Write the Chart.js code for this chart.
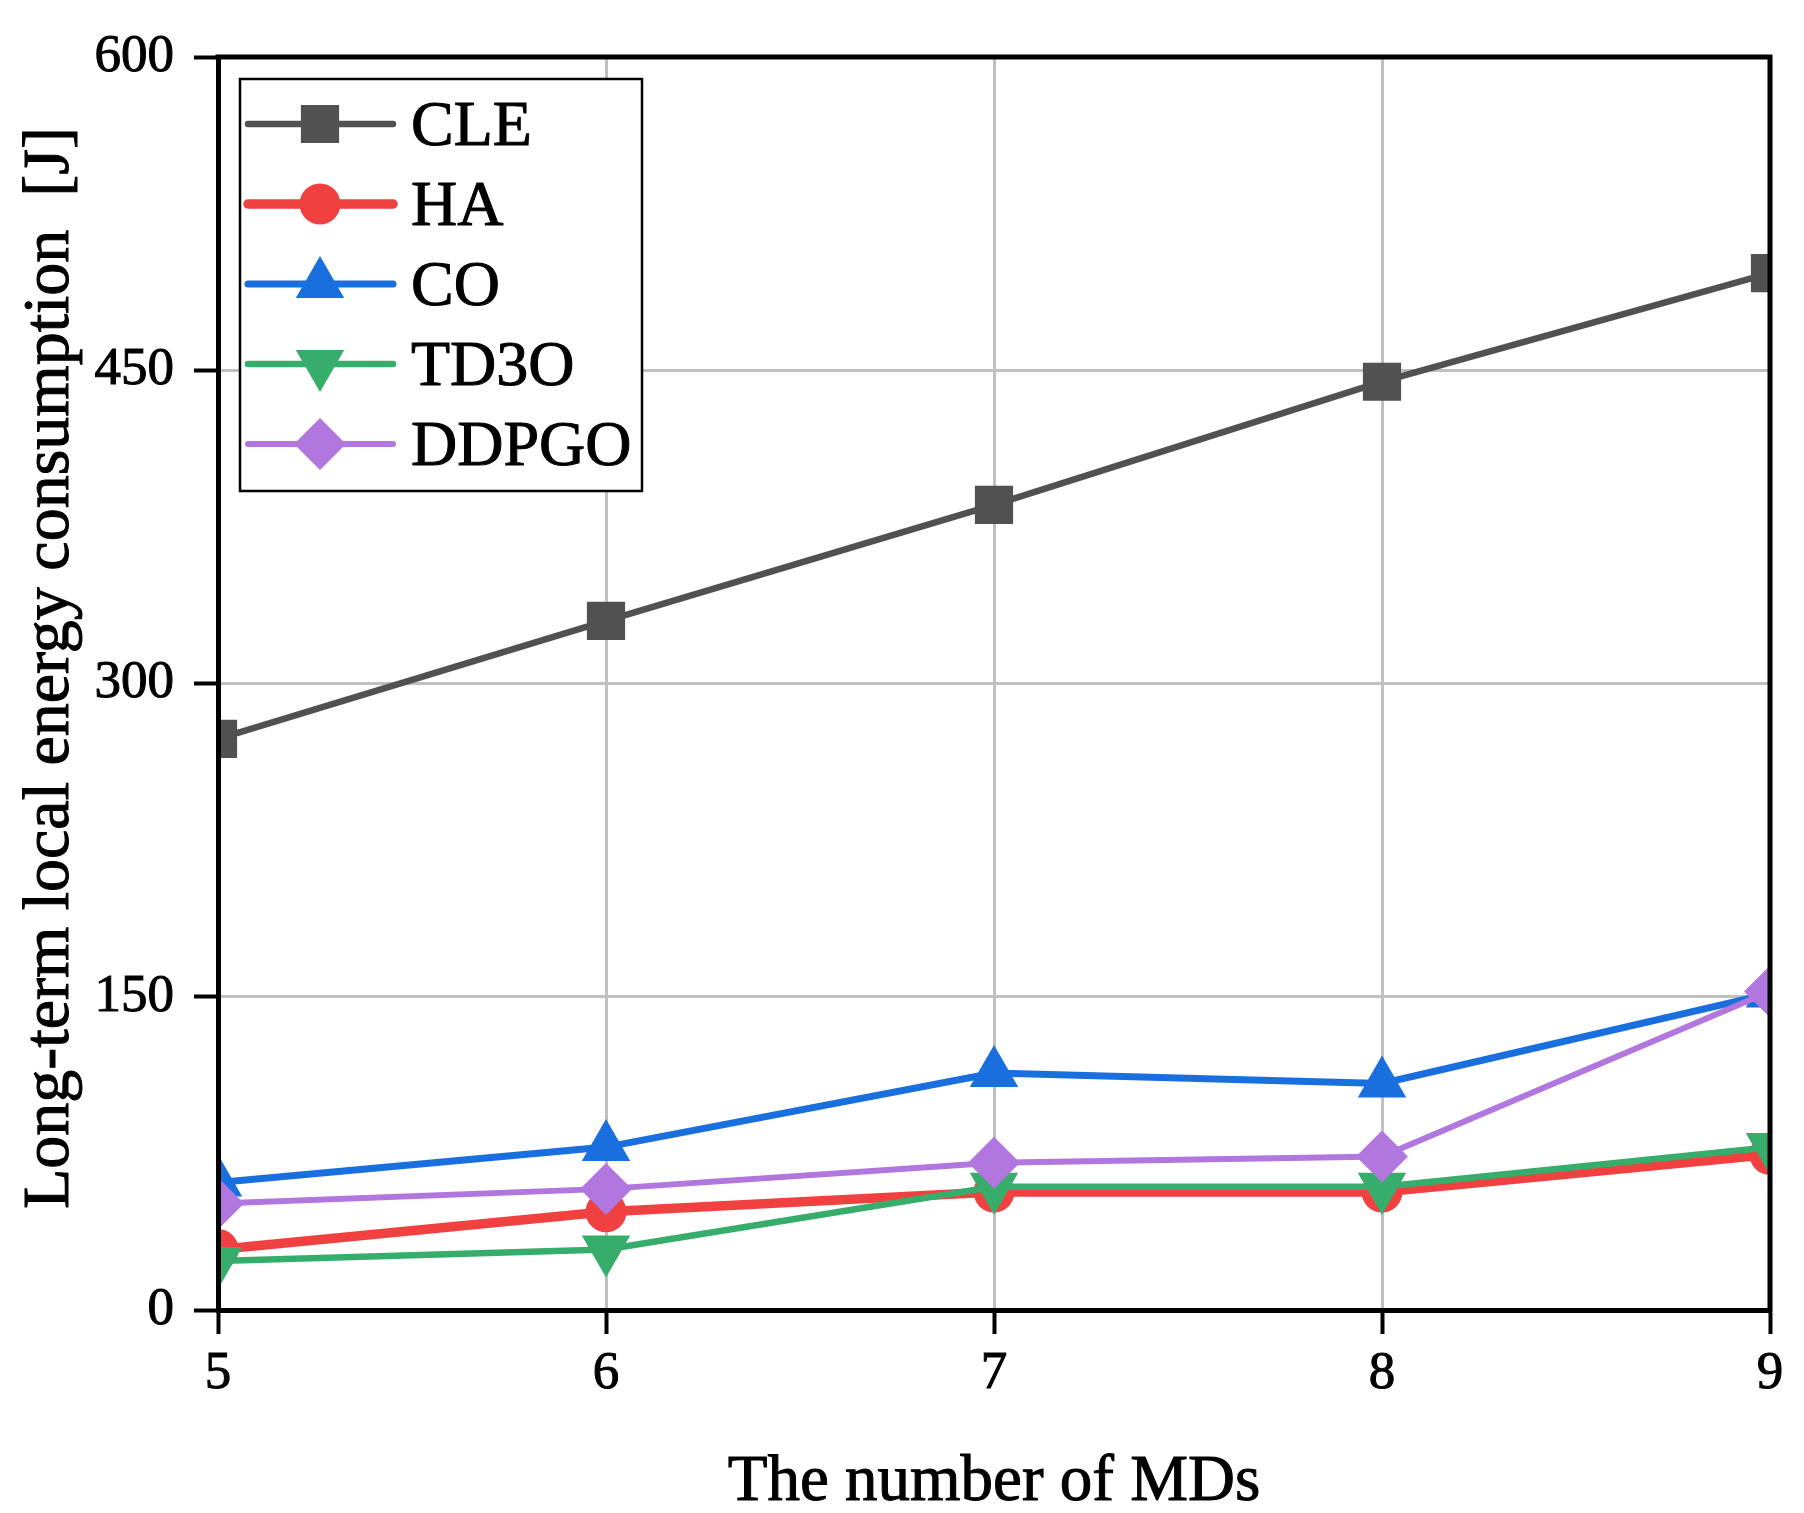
<!DOCTYPE html>
<html>
<head>
<meta charset="utf-8">
<script src="https://cdn.jsdelivr.net/npm/chart.js@4.4.0/dist/chart.umd.min.js"></script>
<style>
  html, body { margin: 0; padding: 0; background: #fff; }
  canvas { display: block; }
</style>
</head>
<body>
<canvas id="c" width="1804" height="1513" style="width:1804px;height:1513px"></canvas>
<script>
// ---- data ----
const categories = ['5', '6', '7', '8', '9'];
const yTicks = [0, 150, 300, 450, 600];
const seriesNames = ['CLE', 'HA', 'CO', 'TD3O', 'DDPGO'];
const CLE   = [273.5, 330, 385.5, 444.5, 496.5];
const HA    = [29, 47, 56.5, 56.5, 74.5];
const CO    = [61, 78, 113.5, 108.5, 151.5];
const TD3O  = [23.5, 29, 59, 59, 78];
const DDPGO = [51, 58, 70.5, 73.5, 152.5];
const xTitle = 'The number of MDs';
const yTitle = 'Long-term local energy consumption  [J]';

const SERIF = '"Liberation Serif", "Times New Roman", serif';

const styles = [
  { color: '#515151', width: 6.5, style: 'rect',    radius: 27, rotation: 0 },
  { color: '#F14040', width: 9.5, style: 'circle',  radius: 20.5, rotation: 0 },
  { color: '#1A6FDF', width: 7,   style: 'triangle',radius: 28, rotation: 0 },
  { color: '#37AD6B', width: 6.5, style: 'triangle',radius: 28, rotation: 180 },
  { color: '#B177DE', width: 6,   style: 'rectRot', radius: 26, rotation: 0 }
];
const values = [CLE, HA, CO, TD3O, DDPGO];

const datasets = values.map((v, i) => ({
  label: seriesNames[i],
  data: v,
  borderColor: styles[i].color,
  backgroundColor: styles[i].color,
  borderWidth: styles[i].width,
  pointStyle: styles[i].style,
  pointRadius: styles[i].radius,
  pointHoverRadius: styles[i].radius,
  pointRotation: styles[i].rotation,
  pointBackgroundColor: styles[i].color,
  pointBorderWidth: 0,
  tension: 0,
  clip: 0,
  order: values.length - i
}));

function heavyText(ctx, text, x, y) {
  ctx.fillText(text, x, y);
  ctx.lineWidth = 1;
  ctx.strokeStyle = '#000';
  ctx.strokeText(text, x, y);
}

const framePlugin = {
  id: 'frameLegend',
  afterDraw(chart) {
    const ctx = chart.ctx;
    const a = chart.chartArea;
    ctx.save();
    // top & right frame
    ctx.strokeStyle = '#000';
    ctx.lineWidth = 5;
    ctx.lineCap = 'square';
    ctx.beginPath();
    ctx.moveTo(a.left, a.top);
    ctx.lineTo(a.right, a.top);
    ctx.lineTo(a.right, a.bottom);
    ctx.stroke();

    // axis titles
    ctx.fillStyle = '#000';
    ctx.textAlign = 'center';
    ctx.textBaseline = 'alphabetic';
    ctx.font = '65px ' + SERIF;
    heavyText(ctx, xTitle, (a.left + a.right) / 2, 1500);
    ctx.save();
    ctx.translate(68, 668);
    ctx.rotate(-Math.PI / 2);
    ctx.font = '66px ' + SERIF;
    heavyText(ctx, yTitle, 0, 0);
    ctx.restore();

    // legend
    const bx = 240, by = 79, bw = 402, bh = 412;
    ctx.fillStyle = '#fff';
    ctx.fillRect(bx, by, bw, bh);
    ctx.strokeStyle = '#000';
    ctx.lineWidth = 2.5;
    ctx.lineCap = 'butt';
    ctx.strokeRect(bx, by, bw, bh);
    chart.data.datasets.forEach((ds, i) => {
      const y = by + 45 + i * 80;
      ctx.strokeStyle = ds.borderColor;
      ctx.lineWidth = ds.borderWidth;
      ctx.lineCap = 'round';
      ctx.beginPath();
      ctx.moveTo(248, y);
      ctx.lineTo(393, y);
      ctx.stroke();
      ctx.fillStyle = ds.pointBackgroundColor;
      ctx.strokeStyle = ds.pointBackgroundColor;
      Chart.helpers.drawPoint(ctx, {
        pointStyle: ds.pointStyle,
        radius: ds.pointRadius,
        rotation: ds.pointRotation,
        borderWidth: 0
      }, 320, y);
      ctx.fillStyle = '#000';
      ctx.font = '64px ' + SERIF;
      ctx.textAlign = 'left';
      ctx.textBaseline = 'alphabetic';
      heavyText(ctx, ds.label, 411, y + 21);
    });
    ctx.restore();
  }
};

new Chart(document.getElementById('c'), {
  type: 'line',
  data: { labels: categories, datasets },
  plugins: [framePlugin],
  options: {
    responsive: false,
    devicePixelRatio: 1,
    animation: false,
    events: [],
    layout: { padding: { left: 0, right: 34, top: 57, bottom: 0 } },
    plugins: { legend: { display: false }, tooltip: { enabled: false } },
    scales: {
      x: {
        type: 'category',
        offset: false,
        afterFit(scale) { scale.height = 203; },
        grid: { color: '#c0c0c0', lineWidth: 3, drawTicks: true, tickLength: 24, tickWidth: 4, tickColor: '#000' },
        border: { display: true, color: '#000', width: 5, z: 1 },
        ticks: { color: '#000', font: { family: SERIF, size: 53 }, padding: 8, maxRotation: 0, textStrokeColor: '#000', textStrokeWidth: 1 },
        title: { display: false, text: xTitle }
      },
      y: {
        min: 0, max: 600,
        afterFit(scale) { scale.width = 218; },
        afterBuildTicks(scale) { scale.ticks = yTicks.map(v => ({ value: v })); },
        grid: { color: '#c0c0c0', lineWidth: 3, drawTicks: true, tickLength: 24, tickWidth: 4, tickColor: '#000' },
        border: { display: true, color: '#000', width: 5, z: 1 },
        ticks: { color: '#000', font: { family: SERIF, size: 53 }, padding: 20, textStrokeColor: '#000', textStrokeWidth: 1 },
        title: { display: false, text: yTitle }
      }
    }
  }
});
</script>
</body>
</html>
